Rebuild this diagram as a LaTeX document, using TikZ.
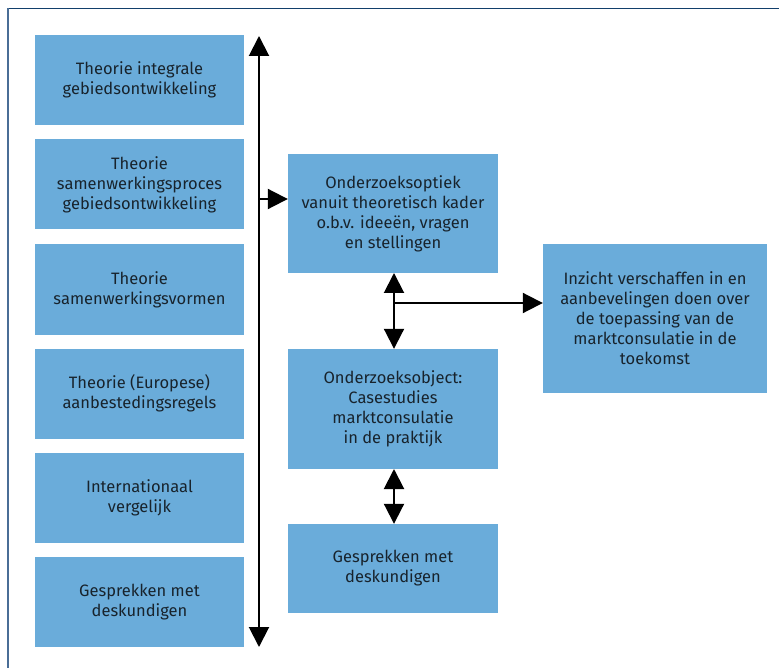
\documentclass[tikz,border=0pt]{standalone}
\usepackage{fontspec}
\setmainfont{Fira Sans}
\usetikzlibrary{arrows.meta}
\definecolor{boxfill}{HTML}{6AACDA}
\definecolor{boxtext}{HTML}{18232C}
\definecolor{frametop}{HTML}{123F6B}
\definecolor{frameleft}{HTML}{4A6D96}
\tikzset{
  block/.style={fill=boxfill, text=boxtext, align=center, inner sep=0pt,
    font=\fontsize{16.5}{20}\selectfont},
  leftblock/.style={block, minimum width=209pt, minimum height=90pt},
  midblock/.style={block, minimum width=210pt},
  link/.style={line width=2pt, -{Triangle[length=20pt,width=20pt]}},
  duallink/.style={line width=2pt, {Triangle[length=20pt,width=20pt]}-{Triangle[length=20pt,width=20pt]}},
}
\begin{document}
\begin{tikzpicture}[x=1pt, y=-1pt]
  \useasboundingbox (0,0) rectangle (779,668);
  % outer frame (top and left edges only)
  \draw[frametop, line width=1.6pt] (7.5,8.5) -- (779,8.5);
  \draw[frameleft, line width=1.2pt] (8,8.5) -- (8,668);

  % column of theory blocks
  \node[leftblock] (t1) at (139.5,80)   {Theorie integrale\\gebiedsontwikkeling};
  \node[leftblock] (t2) at (139.5,184.5) {Theorie\\samenwerkingsproces\\gebiedsontwikkeling};
  \node[leftblock] (t3) at (139.5,289.5) {Theorie\\samenwerkingsvormen};
  \node[leftblock] (t4) at (139.5,393.5) {Theorie (Europese)\\aanbestedingsregels};
  \node[leftblock] (t5) at (139.5,497.5) {Internationaal\\vergelijk};
  \node[leftblock] (t6) at (139.5,602)   {Gesprekken met\\deskundigen};

  % middle column
  \node[midblock, minimum height=119pt] (optiek) at (393,213.5)
    {Onderzoeksoptiek\\vanuit theoretisch kader\\o.b.v. ideeën, vragen\\en stellingen};
  \node[midblock, minimum height=120pt] (object) at (393,409)
    {Onderzoeksobject:\\Casestudies\\marktconsulatie\\in de praktijk};
  \node[midblock, minimum height=89pt] (gesprek) at (393,568.5)
    {Gesprekken met\\deskundigen};

  % result block
  \node[block, minimum width=224pt, minimum height=149pt] (inzicht) at (655,318.5)
    {Inzicht verschaffen in en\\aanbevelingen doen over\\de toepassing van de\\marktconsulatie in de\\toekomst};

  % vertical double arrow beside the theory column
  \coordinate (vtop) at (259,36);
  \coordinate (vbot) at (259,647);
  \coordinate (vjoin) at (259,199);
  \draw[duallink] (vbot) -- (vtop);
  \draw[link] (vjoin) -- (vjoin -| optiek.west);

  % links between the middle blocks
  \coordinate (mtop) at (394,273);
  \coordinate (split) at (394,303);
  \draw[duallink] (mtop) -- (mtop |- object.north);
  \draw[link] (split) -- (split -| inzicht.west);
  \coordinate (mlow) at (394,469);
  \draw[duallink] (mlow) -- (mlow |- gesprek.north);
\end{tikzpicture}
\end{document}
